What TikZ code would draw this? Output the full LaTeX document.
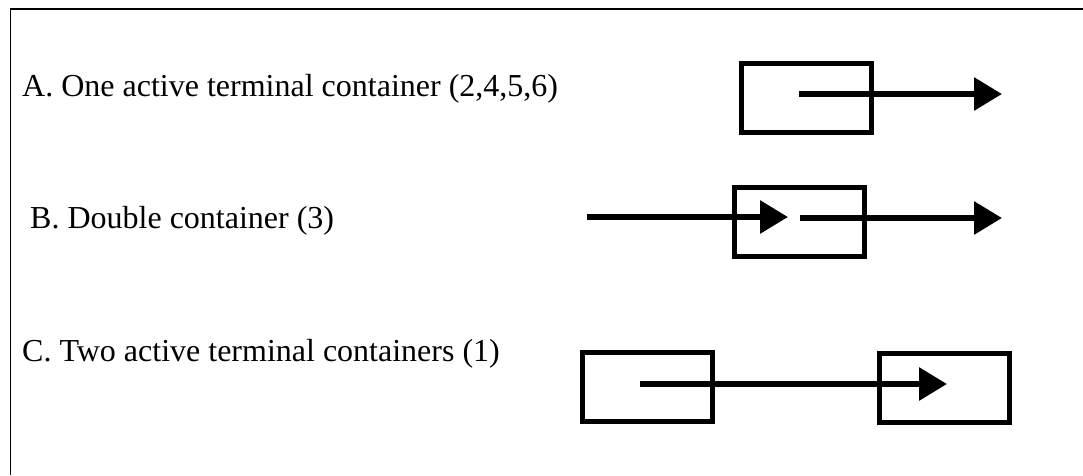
\documentclass[tikz,border=0pt]{standalone}
\usepackage{fontspec}
\setmainfont{Liberation Serif}
\usetikzlibrary{arrows.meta}
\begin{document}
\begin{tikzpicture}[x=1pt,y=-1pt,
  container/.style={draw,line width=5pt,minimum width=130pt,minimum height=69pt,inner sep=0pt},
  flow/.style={line width=6pt,-{Triangle[length=28pt,width=32pt]}},
  caption/.style={anchor=base west,inner sep=0pt,font=\fontsize{32}{38}\selectfont},
  frame/.style={line width=1.5pt}]
\useasboundingbox (0,0) rectangle (1083,475);
% open frame: top and left edges
\coordinate (fl) at (10.5,475);
\coordinate (fc) at (10.5,9);
\coordinate (fr) at (1083,9);
\draw[frame] (fl) -- (fc) -- (fr);

% captions
\node[caption] (ta) at (22,96) {A. One active terminal container (2,4,5,6)};
\node[caption] (tb) at (30,228) {B. Double container (3)};
\node[caption] (tc) at (22,361) {C. Two active terminal containers (1)};

% A: one active terminal container
\node[container] (boxA) at (806.5,97.5) {};
\coordinate (a0) at (799,94);
\coordinate (a1) at (1002,94);
\draw[flow] (a0) -- (a1);

% B: double container
\node[container] (boxB) at (799,222) {};
\coordinate (b0) at (587,217);
\coordinate (b1) at (788,217);
\coordinate (b2) at (800,218);
\coordinate (b3) at (1002,218);
\draw[flow] (b0) -- (b1);
\draw[flow] (b2) -- (b3);

% C: two active terminal containers
\node[container] (boxC1) at (647,387) {};
\node[container] (boxC2) at (944.5,387.5) {};
\coordinate (c0) at (640,384);
\coordinate (c1) at (947,384);
\draw[flow] (c0) -- (c1);
\end{tikzpicture}
\end{document}
